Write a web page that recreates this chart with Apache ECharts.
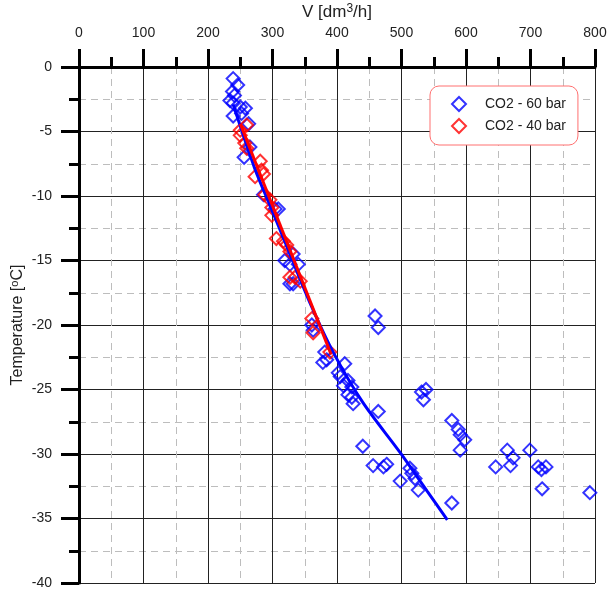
<!DOCTYPE html>
<html>
<head>
<meta charset="utf-8">
<script src="https://cdn.jsdelivr.net/npm/echarts@6/dist/echarts.min.js"></script>
<style>
  html, body { margin: 0; padding: 0; background: #fff; }
  #chart { width: 608px; height: 589px; }
</style>
</head>
<body>
<div id="chart"></div>
<script>
// measured points, [V dm3/h, T oC]
var co2_60bar = [
  [239,-0.9],[246,-1.4],[238,-1.9],[241,-2.2],[234,-2.6],[239,-2.8],[250,-3.1],[258,-3.2],
  [252,-3.6],[239,-3.8],[263,-4.4],[265,-6.2],[256,-7.0],[286,-9.9],[304,-11.0],[309,-11.0],
  [332,-14.5],[319,-15.0],[327,-15.3],[340,-15.3],[327,-16.8],[332,-16.8],[361,-20.0],[363,-20.4],
  [381,-22.1],[384,-22.7],[378,-22.9],[412,-23.0],[402,-23.7],[405,-24.0],[417,-24.3],[410,-24.7],
  [423,-24.8],[417,-25.4],[423,-25.6],[425,-26.1],[459,-19.3],[464,-20.2],[464,-26.7],[440,-29.4],
  [456,-30.9],[472,-31.0],[477,-30.8],[498,-32.1],[513,-31.1],[516,-31.5],[521,-31.9],[526,-32.8],
  [531,-25.2],[538,-25.0],[534,-25.8],[578,-27.4],[588,-28.1],[591,-28.5],[598,-28.9],[591,-29.7],
  [578,-33.8],[664,-29.7],[673,-30.3],[646,-31.0],[669,-30.9],[699,-29.7],[712,-31.0],[717,-31.2],
  [724,-31.0],[718,-32.7],[792,-33.0]
];
var co2_40bar = [
  [250,-4.9],[260,-4.5],[250,-5.3],[257,-5.9],[260,-6.3],[281,-7.3],[283,-8.0],[273,-8.5],
  [286,-8.3],[288,-9.9],[296,-10.3],[299,-10.9],[299,-11.5],[306,-13.3],[317,-13.5],[322,-13.8],
  [327,-14.3],[327,-16.3],[335,-16.3],[343,-16.6],[361,-19.5],[363,-20.6],[389,-22.1]
];
// fit curves
var fit_60bar = [
  [239,-2.9],[272,-7.8],[300,-11.2],[327,-14.5],[360,-18.5],[394,-22.1],
  [440,-26.0],[498,-29.9],[540,-32.9],[571,-35.1]
];
var fit_40bar = [[250,-4.4],[391,-22.3]];

var xTicks = [0,100,200,300,400,500,600,700,800];
var yTicks = [-40,-35,-30,-25,-20,-15,-10,-5,0];

var blue = '#0000ff';
var red = '#ff0000';
var font = 'Liberation Sans, Arial, sans-serif';

var myChart = echarts.init(document.getElementById('chart'));

var axisCommon = {
  nameMoveOverlap: false,
  axisLine: { show: true, onZero: false, lineStyle: { color: '#000', width: 3 } },
  axisTick: { show: true, inside: false, length: 18, lineStyle: { color: '#000', width: 3 } },
  minorTick: { show: true, splitNumber: 2, length: 10, lineStyle: { color: '#000', width: 3 } },
  splitLine: { show: true, lineStyle: { color: '#222', width: 1 } },
  minorSplitLine: { show: true, lineStyle: { color: '#bdbdbd', width: 1, type: [7, 5] } }
};

option = {
  animation: false,
  backgroundColor: '#fff',
  textStyle: { fontFamily: font },
  grid: { left: 79, top: 67, width: 516, height: 516, containLabel: false, outerBoundsMode: 'none' },
  legend: {
    orient: 'vertical',
    left: 430,
    top: 86,
    width: 148,
    padding: [10, 12, 11, 21],
    itemWidth: 14,
    itemHeight: 14,
    itemGap: 6,
    borderColor: '#ff7070',
    borderWidth: 1,
    borderRadius: 9,
    backgroundColor: '#fff',
    textStyle: { fontSize: 14, color: '#222', fontFamily: font, padding: [0, 0, 0, 14] },
    data: ['CO2 - 60 bar', 'CO2 - 40 bar']
  },
  xAxis: Object.assign({
    type: 'value',
    position: 'top',
    min: 0,
    max: 800,
    interval: 100,
    name: 'V [dm{sup|3}/h]',
    nameLocation: 'middle',
    nameGap: 45,
    nameTextStyle: {
      fontSize: 17, color: '#222', fontFamily: font,
      rich: { sup: { fontSize: 12, verticalAlign: 'top', padding: [0, 0, 7, 0], color: '#222', fontFamily: font } }
    },
    axisLabel: {
      margin: 27, fontSize: 14, color: '#222', fontFamily: font,
      formatter: function (v) { return xTicks.indexOf(v) >= 0 ? String(v) : ''; }
    }
  }, axisCommon),
  yAxis: Object.assign({
    type: 'value',
    min: -40,
    max: 0,
    interval: 5,
    name: 'Temperature [{sup|o}C]',
    nameLocation: 'middle',
    nameGap: 52,
    nameRotate: 90,
    nameTextStyle: {
      fontSize: 16, color: '#222', fontFamily: font,
      rich: { sup: { fontSize: 11, verticalAlign: 'top', padding: [0, 0, 7, 0], color: '#222', fontFamily: font } }
    },
    axisLabel: {
      margin: 27, fontSize: 14, color: '#222', fontFamily: font,
      formatter: function (v) { return yTicks.indexOf(v) >= 0 ? String(v) : ''; }
    }
  }, axisCommon),
  series: [
    {
      name: 'CO2 - 60 bar',
      type: 'scatter',
      symbol: 'diamond',
      symbolSize: 13,
      itemStyle: { color: 'rgba(0,0,0,0)', borderColor: blue, borderWidth: 2 },
      data: co2_60bar,
      z: 2
    },
    {
      name: 'CO2 - 40 bar',
      type: 'scatter',
      symbol: 'diamond',
      symbolSize: 13,
      itemStyle: { color: 'rgba(0,0,0,0)', borderColor: red, borderWidth: 2 },
      data: co2_40bar,
      z: 3
    },
    {
      name: 'fit60',
      type: 'line',
      showSymbol: false,
      smooth: 0.3,
      lineStyle: { color: blue, width: 3 },
      data: fit_60bar,
      z: 4
    },
    {
      name: 'fit40',
      type: 'line',
      showSymbol: false,
      lineStyle: { color: red, width: 3 },
      data: fit_40bar,
      z: 5
    }
  ]
};

if (option && typeof option === "object") {
  myChart.setOption(option, true);
}
</script>
</body>
</html>
